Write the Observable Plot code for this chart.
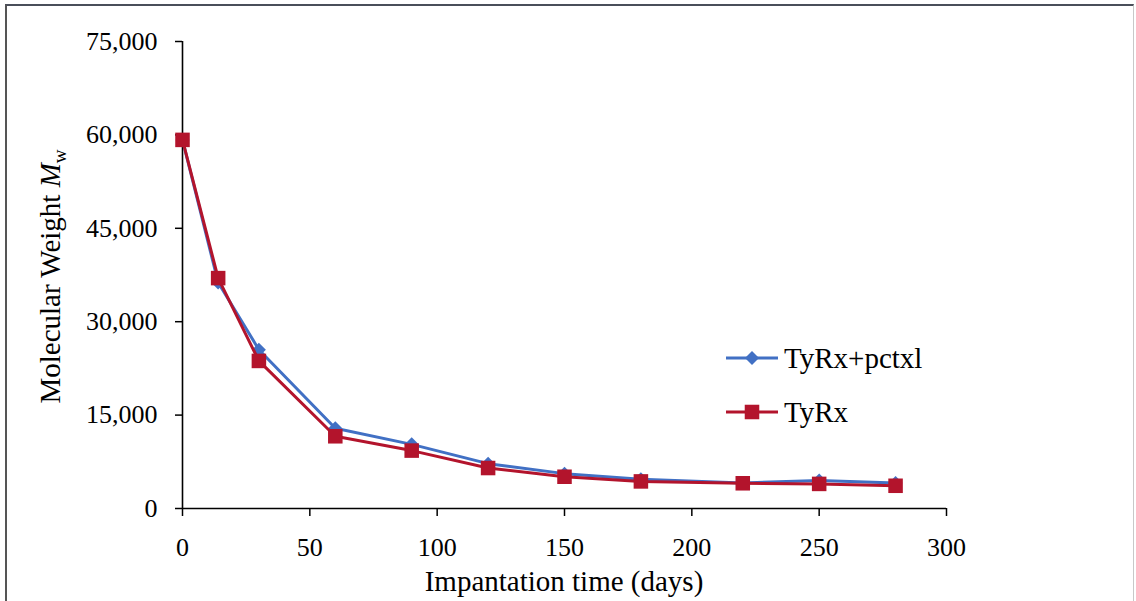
<!DOCTYPE html>
<html>
<head>
<meta charset="utf-8">
<script src="https://cdn.jsdelivr.net/npm/d3@7"></script>
<script src="https://cdn.jsdelivr.net/npm/@observablehq/plot@0.6"></script>
<style>
  html, body { margin: 0; padding: 0; background: #fff; width: 1136px; height: 601px; overflow: hidden; font-family: 'Liberation Serif'; }
  #wrap { position: relative; width: 1136px; height: 601px; }
  #frame { position: absolute; left: 5px; top: 4px; width: 1126px; height: 640px;
           border-top: 2px solid #4a4f5a; border-left: 2px solid #555; border-right: 1px solid #c8c8c8; pointer-events: none; }
  #chart { position: absolute; left: 0; top: 0; }
  #chart svg, #chart svg text, #chart svg tspan { font-family: 'Liberation Serif' !important; }
</style>
</head>
<body>
<div id="wrap"><div id="chart"></div><div id="frame"></div></div>
<script>
// ---- data ----
const days = [0, 14, 30, 60, 90, 120, 150, 180, 220, 250, 280];
const tyrxPctxl = [59200, 36300, 25500, 12900, 10300, 7200, 5600, 4700, 4100, 4500, 4100];
const tyrx = [59200, 37000, 23700, 11600, 9300, 6500, 5100, 4350, 4050, 3950, 3650];
const seriesNames = ["TyRx+pctxl", "TyRx"];
const seriesColors = ["#4170c4", "#b3142c"];
const xTicks = [0, 50, 100, 150, 200, 250, 300];
const yTicks = [0, 15000, 30000, 45000, 60000, 75000];
const xTitle = "Impantation time (days)";

const rows = [];
days.forEach((d, i) => rows.push({day: d, mw: tyrxPctxl[i], series: seriesNames[0]}));
days.forEach((d, i) => rows.push({day: d, mw: tyrx[i], series: seriesNames[1]}));
const blue = rows.filter(r => r.series === seriesNames[0]);
const red = rows.filter(r => r.series === seriesNames[1]);

const font = "Liberation Serif";

const plot = Plot.plot({
  width: 1136,
  height: 601,
  marginLeft: 182,
  marginRight: 190,
  marginTop: 41,
  marginBottom: 93,
  style: {fontFamily: font, fontSize: "26px", color: "#000", background: "transparent", overflow: "visible"},
  x: {domain: [0, 300]},
  y: {domain: [0, 75000]},
  marks: [
    Plot.axisX({ticks: xTicks, tickSize: 8, tickPadding: 21, label: null, fontSize: 26, fontFamily: font, strokeWidth: 1.5}),
    Plot.axisY({ticks: yTicks, tickSize: 7, tickPadding: 18, label: null, tickFormat: d3.format(","), fontSize: 26, fontFamily: font, strokeWidth: 1.5}),
    Plot.ruleX([0], {stroke: "#000", strokeWidth: 1.6}),
    Plot.ruleY([0], {stroke: "#000", strokeWidth: 1.6}),
    Plot.line(blue, {x: "day", y: "mw", stroke: seriesColors[0], strokeWidth: 3}),
    Plot.dot(blue, {x: "day", y: "mw", symbol: d3.symbolDiamond2, r: 6.3, fill: seriesColors[0], stroke: "none"}),
    Plot.line(red, {x: "day", y: "mw", stroke: seriesColors[1], strokeWidth: 3}),
    Plot.dot(red, {x: "day", y: "mw", symbol: "square", r: 8.2, fill: seriesColors[1], stroke: "none"})
  ]
});
document.getElementById("chart").appendChild(plot);

// ---- axis titles and legend (real SVG text) ----
const svg = d3.select(plot);
const xs = plot.scale("x"), ys = plot.scale("y");
const x0 = xs.apply(0), x1 = xs.apply(300), y0 = ys.apply(0), y1 = ys.apply(75000);

svg.append("text")
  .attr("x", (x0 + x1) / 2).attr("y", y0 + 83)
  .attr("text-anchor", "middle").attr("font-size", 29).attr("fill", "#000")
  .text(xTitle);

const yt = svg.append("text")
  .attr("transform", `translate(${x0 - 122},${(y0 + y1) / 2 + 2}) rotate(-90)`)
  .attr("text-anchor", "middle").attr("font-size", 29).attr("fill", "#000");
yt.append("tspan").text("Molecular Weight ");
yt.append("tspan").attr("font-style", "italic").text("M");
yt.append("tspan").attr("font-size", 19).attr("dy", 6).text("w");

// legend
const lg = svg.append("g").attr("text-anchor", "start");
const legendItems = [
  {name: seriesNames[0], color: seriesColors[0], sym: d3.symbolDiamond2, size: Math.PI * 6.3 * 6.3, yy: 358},
  {name: seriesNames[1], color: seriesColors[1], sym: d3.symbolSquare, size: Math.PI * 8.2 * 8.2, yy: 412}
];
legendItems.forEach(it => {
  lg.append("line").attr("x1", 726).attr("x2", 778).attr("y1", it.yy).attr("y2", it.yy)
    .attr("stroke", it.color).attr("stroke-width", 3);
  lg.append("path").attr("transform", `translate(752,${it.yy})`)
    .attr("d", d3.symbol(it.sym, it.size)()).attr("fill", it.color);
  lg.append("text").attr("x", 784).attr("y", it.yy + 10).attr("text-anchor", "start")
    .attr("font-size", 29).attr("fill", "#000").text(it.name);
});

function forceFont() {
  plot.querySelectorAll("text, tspan").forEach(el => {
    el.setAttribute("font-family", "Liberation Serif");
    el.style.setProperty("font-family", "'Liberation Serif'", "important");
  });
  plot.style.setProperty("font-family", "'Liberation Serif'", "important");
}
forceFont();
setTimeout(forceFont, 0);
</script>
</body>
</html>
